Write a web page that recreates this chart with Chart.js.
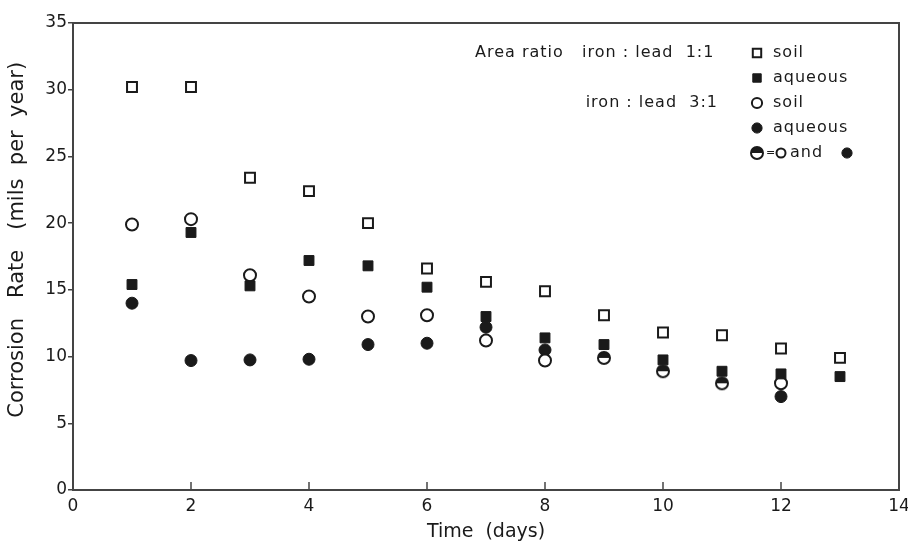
<!DOCTYPE html>
<html>
<head>
<meta charset="utf-8">
<script src="https://cdn.jsdelivr.net/npm/chart.js@4.4.1/dist/chart.umd.min.js"></script>
<style>
  html, body { margin: 0; padding: 0; background: #fff; }
  canvas { display: block; }
</style>
</head>
<body>
<canvas id="chart" width="908" height="545"></canvas>
<script>
// Time (days) for each reading
const days = [1, 2, 3, 4, 5, 6, 7, 8, 9, 10, 11, 12, 13];

// iron : lead 1:1
const soil11    = [30.2, 30.2, 23.4, 22.4, 20.0, 16.6, 15.6, 14.9, 13.1, 11.8, 11.6, 10.6, 9.9];
const aqueous11 = [15.4, 19.3, 15.3, 17.2, 16.8, 15.2, 13.0, 11.4, 10.9, 9.75, 8.9, 8.7, 8.5];

// iron : lead 3:1 (null where both readings coincide)
const soil31    = [19.9, 20.3, 16.1, 14.5, 13.0, 13.1, 11.2, 9.7, null, null, null, 8.0, null];
const aqueous31 = [14.0, 9.7, 9.75, 9.8, 10.9, 11.0, 12.2, 10.5, null, null, null, 7.0, null];
// soil and aqueous 3:1 at the same value
const both31    = [null, null, null, null, null, null, null, null, 9.9, 8.9, 8.0, null, null];

const xTicks = [0, 2, 4, 6, 8, 10, 12, 14];
const yTicks = [0, 5, 10, 15, 20, 25, 30, 35];

const INK = '#1a1a1a';
const AXIS = '#444';

function toPoints(values) {
    return days
        .map((d, i) => ({ x: d, y: values[i] }))
        .filter(p => p.y !== null);
}

// Half-filled circle marker ("= O and ●")
function makeHalfCircle() {
    const c = document.createElement('canvas');
    c.width = 16; c.height = 16;
    const g = c.getContext('2d');
    g.fillStyle = '#fff';
    g.beginPath(); g.arc(8, 8, 6, 0, Math.PI * 2); g.fill();
    g.fillStyle = INK;
    g.beginPath(); g.arc(8, 8, 6, Math.PI, Math.PI * 2); g.closePath(); g.fill();
    g.strokeStyle = INK; g.lineWidth = 2;
    g.beginPath(); g.arc(8, 8, 6, 0, Math.PI * 2); g.stroke();
    return c;
}
const halfCircle = makeHalfCircle();

const markerStyles = {
    soil11:    { pointStyle: 'rect',   pointRadius: 7, backgroundColor: '#fff', borderColor: INK, borderWidth: 2 },
    aqueous11: { pointStyle: 'rect',   pointRadius: 7, backgroundColor: INK,    borderColor: INK, borderWidth: 1 },
    soil31:    { pointStyle: 'circle', pointRadius: 6, backgroundColor: '#fff', borderColor: INK, borderWidth: 2 },
    aqueous31: { pointStyle: 'circle', pointRadius: 6, backgroundColor: INK,    borderColor: INK, borderWidth: 1 },
    both31:    { pointStyle: halfCircle, pointRadius: 6, backgroundColor: INK, borderColor: INK, borderWidth: 1 }
};

// Frame, inward x ticks and the legend box
const decorPlugin = {
    id: 'decor',
    afterDraw(chart) {
        const { ctx, chartArea: a, scales } = chart;
        ctx.save();
        ctx.strokeStyle = AXIS;
        ctx.lineWidth = 2;
        ctx.strokeRect(a.left, a.top, a.right - a.left, a.bottom - a.top);

        // x ticks point into the plot
        ctx.lineWidth = 1.5;
        xTicks.forEach(v => {
            const px = scales.x.getPixelForValue(v);
            ctx.beginPath();
            ctx.moveTo(px, a.bottom);
            ctx.lineTo(px, a.bottom - 8);
            ctx.stroke();
        });

        // legend
        ctx.fillStyle = INK;
        ctx.font = '16px "DejaVu Sans"';
        ctx.letterSpacing = '1px';
        ctx.textBaseline = 'middle';
        const rows = [53, 78, 103, 128, 153];
        const mx = 757, tx = 773;
        ctx.textAlign = 'left';
        ctx.fillText('Area ratio   iron : lead  1:1', 475, rows[0]);
        ctx.textAlign = 'right';
        ctx.fillText('iron : lead  3:1', 718, rows[2]);
        ctx.textAlign = 'left';
        ctx.fillText('soil', tx, rows[0]);
        ctx.fillText('aqueous', tx, rows[1]);
        ctx.fillText('soil', tx, rows[2]);
        ctx.fillText('aqueous', tx, rows[3]);

        const drawMarker = (st, x, y, scale) => {
            ctx.fillStyle = st.backgroundColor;
            ctx.strokeStyle = st.borderColor;
            ctx.lineWidth = st.borderWidth;
            Chart.helpers.drawPoint(ctx, { pointStyle: st.pointStyle, radius: st.pointRadius * scale, borderWidth: st.borderWidth }, x, y);
        };
        drawMarker(markerStyles.soil11, mx, rows[0], 0.85);
        drawMarker(markerStyles.aqueous11, mx, rows[1], 0.85);
        drawMarker(markerStyles.soil31, mx, rows[2], 0.85);
        drawMarker(markerStyles.aqueous31, mx, rows[3], 0.85);
        ctx.drawImage(halfCircle, mx - 8, rows[4] - 8);
        ctx.fillStyle = INK;
        ctx.font = '11px "DejaVu Sans"';
        ctx.letterSpacing = '0px';
        ctx.fillText('=', mx + 9, rows[4]);
        drawMarker(markerStyles.soil31, mx + 24, rows[4], 0.75);
        ctx.fillStyle = INK;
        ctx.font = '16px "DejaVu Sans"';
        ctx.letterSpacing = '1px';
        ctx.fillText('and', mx + 33, rows[4]);
        drawMarker(markerStyles.aqueous31, mx + 90, rows[4], 0.85);
        ctx.letterSpacing = '0px';
        ctx.restore();
    }
};

function makeDataset(label, values, key) {
    const st = markerStyles[key];
    return {
        label: label,
        data: toPoints(values),
        showLine: false,
        pointStyle: st.pointStyle,
        pointRadius: st.pointRadius,
        pointHoverRadius: st.pointRadius,
        pointBackgroundColor: st.backgroundColor,
        pointBorderColor: st.borderColor,
        pointBorderWidth: st.borderWidth
    };
}

const tickFont = { family: '"DejaVu Sans"', size: 17 };
const titleFont = { family: '"DejaVu Sans"', size: 19 };
const yTitleFont = { family: '"DejaVu Sans"', size: 21 };
const noPadding = () => ({ left: 0, right: 0, top: 0, bottom: 0 });

new Chart(document.getElementById('chart').getContext('2d'), {
    type: 'scatter',
    data: {
        datasets: [
            makeDataset('iron : lead 1:1 soil', soil11, 'soil11'),
            makeDataset('iron : lead 1:1 aqueous', aqueous11, 'aqueous11'),
            makeDataset('iron : lead 3:1 soil', soil31, 'soil31'),
            makeDataset('iron : lead 3:1 aqueous', aqueous31, 'aqueous31'),
            makeDataset('iron : lead 3:1 soil and aqueous', both31, 'both31')
        ]
    },
    options: {
        responsive: false,
        animation: false,
        layout: { padding: { top: 23, right: 6, left: 0, bottom: 0 } },
        plugins: {
            legend: { display: false },
            tooltip: { enabled: false }
        },
        scales: {
            x: {
                type: 'linear',
                min: 0,
                max: 14,
                afterBuildTicks: s => { s.ticks = xTicks.map(v => ({ value: v })); },
                afterFit: s => { s.height = 55; s.paddingLeft = 0; s.paddingRight = 0; s.getPadding = noPadding; },
                grid: { display: true, drawOnChartArea: false, drawTicks: false },
                border: { color: AXIS, width: 2 },
                ticks: { color: INK, font: tickFont, padding: 6, maxRotation: 0 },
                title: {
                    display: true,
                    text: 'Time  (days)',
                    color: INK,
                    font: titleFont,
                    padding: { top: 0, bottom: 2 }
                }
            },
            y: {
                type: 'linear',
                min: 0,
                max: 35,
                afterBuildTicks: s => { s.ticks = yTicks.map(v => ({ value: v })); },
                afterFit: s => { s.width = 73; s.paddingTop = 0; s.paddingBottom = 0; s.getPadding = noPadding; },
                grid: { drawOnChartArea: false, tickLength: 5, color: AXIS, lineWidth: 1.5 },
                border: { color: AXIS, width: 2 },
                ticks: { color: INK, font: tickFont, padding: 1 },
                title: {
                    display: true,
                    // leading spaces nudge the title up, as in the original
                    text: '     Corrosion   Rate   (mils  per  year)',
                    color: INK,
                    font: yTitleFont,
                    padding: { top: 5, bottom: 0 }
                }
            }
        }
    },
    plugins: [decorPlugin]
});
</script>
</body>
</html>
